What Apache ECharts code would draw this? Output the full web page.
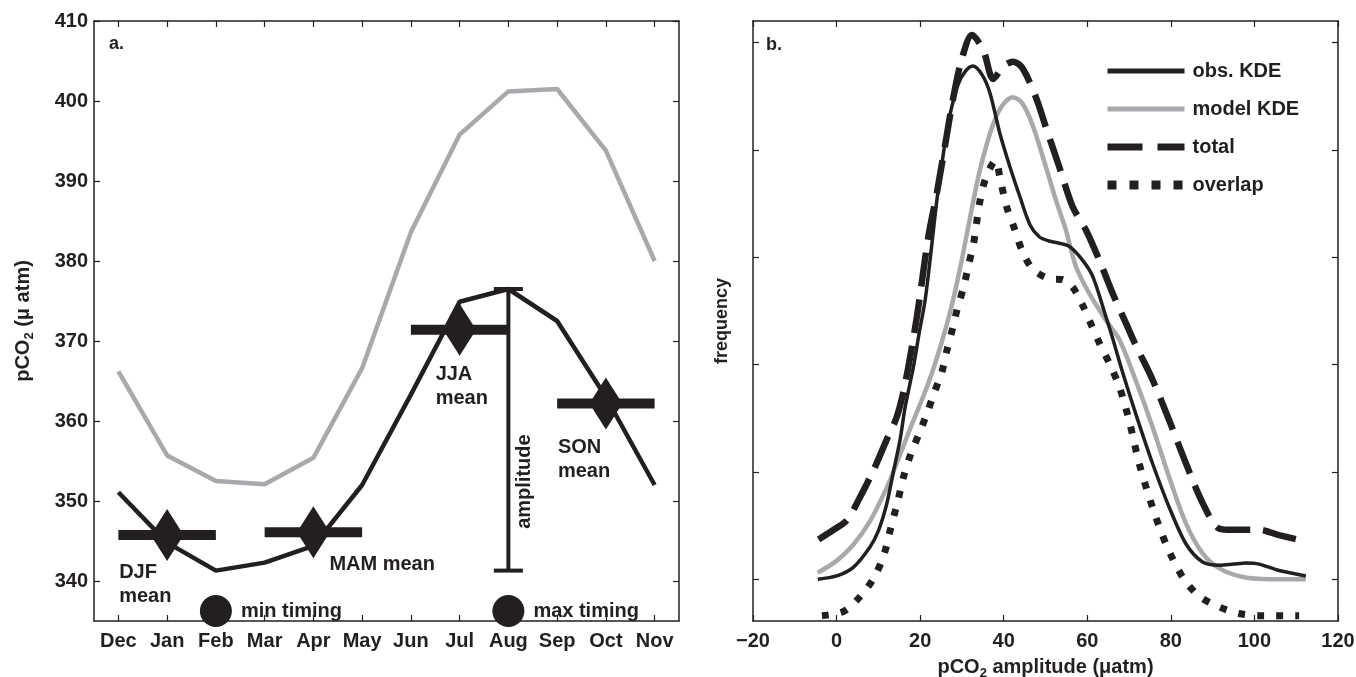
<!DOCTYPE html>
<html>
<head>
<meta charset="utf-8">
<title>pCO2 seasonal cycle and amplitude KDE</title>
<script src="https://cdn.jsdelivr.net/npm/echarts@6/dist/echarts.min.js"></script>
<style>
  html, body { margin: 0; padding: 0; background: #ffffff; }
  #chart { width: 1356px; height: 677px; }
</style>
</head>
<body>
<div id="chart"></div>
<script>
// ---- Panel a: monthly climatology ----
const months = ['Dec', 'Jan', 'Feb', 'Mar', 'Apr', 'May', 'Jun', 'Jul', 'Aug', 'Sep', 'Oct', 'Nov'];
const obsMonthly = [351.1, 344.8, 341.3, 342.3, 344.4, 352.0, 363.3, 374.9, 376.5, 372.5, 363.0, 352.0];
const modelMonthly = [366.2, 355.7, 352.5, 352.1, 355.4, 366.6, 383.6, 395.8, 401.2, 401.5, 393.8, 380.0];
const seasons = ['DJF', 'MAM', 'JJA', 'SON'];
const seasonMonths = [['Dec', 'Jan', 'Feb'], ['Mar', 'Apr', 'May'], ['Jun', 'Jul', 'Aug'], ['Sep', 'Oct', 'Nov']];
const seasonMeans = [345.75, 346.1, 371.4, 362.2];
const amplitudeMonth = 'Aug';
const amplitudeRange = [341.3, 376.5];
const timingMonths = ['Feb', 'Aug'];
const timingNames = ['min timing', 'max timing'];
const timingLevel = 336.25;
const pco2Ticks = [340, 350, 360, 370, 380, 390, 400, 410];

// ---- Panel b: kernel density estimates of amplitude ----
const obsKdeX = [-4.5, 0, 4, 8, 10, 12, 13.6, 15.2, 16.4, 18.4, 19.8, 21.2, 22.6, 24.0, 25.5, 27.0, 29.0, 30.8, 32.6, 34.8, 36.7, 39.1, 41.5, 43.9, 46.3, 48.5, 50.8, 53.3, 55.7, 58.9, 61.3, 64.5, 66.1, 68.5, 71.6, 75.6, 79.6, 83.6, 87.6, 91.6, 95.0, 98.0, 101.1, 105.9, 112.3];
const obsKdeY = [0.00, 0.03, 0.11, 0.30, 0.45, 0.70, 1.00, 1.30, 1.60, 1.98, 2.30, 2.60, 3.05, 3.53, 3.95, 4.30, 4.60, 4.73, 4.78, 4.70, 4.53, 4.15, 3.84, 3.56, 3.30, 3.19, 3.15, 3.13, 3.10, 2.97, 2.82, 2.44, 2.24, 1.92, 1.54, 1.08, 0.67, 0.33, 0.16, 0.13, 0.14, 0.15, 0.14, 0.08, 0.03];
const modelKdeX = [-4.5, 0, 4, 8, 12, 14, 16, 18, 20, 22, 24, 26, 28, 30, 32, 34, 36, 38, 40, 42.2, 44.5, 47.0, 50.1, 52.5, 54.9, 57.3, 60.5, 64.5, 67.7, 71.6, 75.6, 79.6, 83.6, 87.6, 91.6, 97.2, 104.0, 112.3];
const modelKdeY = [0.06, 0.17, 0.32, 0.54, 0.85, 1.04, 1.24, 1.44, 1.63, 1.83, 2.06, 2.32, 2.62, 2.98, 3.38, 3.76, 4.06, 4.29, 4.43, 4.49, 4.43, 4.22, 3.84, 3.53, 3.25, 2.91, 2.66, 2.41, 2.23, 1.85, 1.42, 0.95, 0.52, 0.24, 0.10, 0.02, 0.00, 0.00];
const totalX = [-4.3, -0.7, 2.5, 5.7, 8.9, 12.0, 14.4, 16.4, 19.2, 22.0, 24.0, 26.0, 28.0, 30.0, 32.4, 35.1, 37.5, 40.0, 42.3, 44.5, 47.7, 50.1, 53.3, 56.5, 59.7, 62.9, 66.1, 69.3, 71.6, 75.6, 79.6, 83.6, 87.6, 91.6, 94.8, 101.1, 105.9, 112.3];
const totalY = [0.37, 0.46, 0.55, 0.77, 1.02, 1.30, 1.51, 1.82, 2.44, 3.20, 3.60, 4.05, 4.50, 4.85, 5.07, 4.93, 4.66, 4.78, 4.82, 4.76, 4.49, 4.21, 3.84, 3.47, 3.25, 2.97, 2.66, 2.38, 2.18, 1.86, 1.48, 1.08, 0.71, 0.47, 0.46, 0.46, 0.41, 0.35];
const overlapX = [-3.5, 1.7, 5.7, 8.9, 11.2, 12.8, 14.8, 16.0, 17.8, 19.8, 21.6, 23.4, 25.2, 26.4, 27.8, 28.9, 30.4, 31.6, 32.8, 34.3, 35.8, 38.0, 39.3, 40.7, 42.7, 44.3, 46.9, 50.9, 54.1, 56.5, 58.9, 60.5, 62.9, 65.3, 67.7, 70.0, 72.4, 75.6, 78.8, 82.8, 86.8, 91.6, 96.3, 101.1, 110.7];
const overlapY = [-0.34, -0.30, -0.16, 0.01, 0.21, 0.45, 0.75, 0.95, 1.17, 1.36, 1.54, 1.74, 1.93, 2.13, 2.34, 2.52, 2.72, 2.93, 3.13, 3.52, 3.75, 3.90, 3.70, 3.47, 3.25, 3.07, 2.89, 2.80, 2.79, 2.72, 2.55, 2.41, 2.20, 2.01, 1.79, 1.48, 1.08, 0.67, 0.33, 0.02, -0.16, -0.26, -0.32, -0.34, -0.34];
const ampTicks = [-20, 0, 20, 40, 60, 80, 100, 120];
const freqTicks = [0, 1, 2, 3, 4, 5];

// ---- styling ----
const INK = '#231f20';
const GREY = '#a7a9ac';
const NONE = 'rgba(0,0,0,0)';
const FONT = '"Liberation Sans", Arial, Helvetica, sans-serif';
const txt = { fontFamily: FONT, fontWeight: 'bold', fontSize: 20, color: INK };

const pairs = (xs, ys) => xs.map((x, i) => [x, ys[i]]);

const frameLine = { show: true, onZero: false, lineStyle: { color: INK, width: 1.5 } };
const inTick = { show: true, inside: true, length: 6, lineStyle: { color: INK, width: 1.2 } };
const subStyle = { fontFamily: FONT, fontWeight: 'bold', fontSize: 13, color: INK, padding: [12, 0, 0, 0] };

// fixed plot rectangles; no automatic shrinking to fit labels
const gridA = { left: 94, top: 21, width: 585, height: 600, outerBoundsMode: 'none', containLabel: false };
const gridB = { left: 753, top: 21, width: 585, height: 600, outerBoundsMode: 'none', containLabel: false };

const xAxes = [
  { gridIndex: 0, type: 'category', data: months, position: 'bottom', boundaryGap: true,
    axisLine: frameLine, axisTick: Object.assign({ alignWithLabel: true }, inTick),
    axisLabel: Object.assign({ margin: 10, interval: 0 }, txt), splitLine: { show: false } },
  { gridIndex: 0, type: 'category', data: months, position: 'top', boundaryGap: true,
    axisLine: frameLine, axisTick: Object.assign({ alignWithLabel: true }, inTick),
    axisLabel: { show: false }, splitLine: { show: false } },
  { gridIndex: 1, type: 'value', min: ampTicks[0], max: ampTicks[ampTicks.length - 1], interval: 20, position: 'bottom',
    axisLine: frameLine, axisTick: inTick,
    axisLabel: Object.assign({ margin: 10, formatter: v => String(v).replace('-', '\u2212') }, txt),
    splitLine: { show: false },
    name: 'pCO{sub|2} amplitude (\u03bcatm)', nameLocation: 'middle', nameGap: 34,
    nameTextStyle: Object.assign({ rich: { sub: subStyle } }, txt) },
  { gridIndex: 1, type: 'value', min: ampTicks[0], max: ampTicks[ampTicks.length - 1], interval: 20, position: 'top',
    axisLine: frameLine, axisTick: inTick, axisLabel: { show: false }, splitLine: { show: false } }
];

const yAxes = [
  { gridIndex: 0, type: 'value', min: 335, max: 410, position: 'left',
    axisLine: frameLine, axisTick: Object.assign({ customValues: pco2Ticks }, inTick),
    axisLabel: Object.assign({ margin: 6, customValues: pco2Ticks }, txt), splitLine: { show: false },
    name: 'pCO{sub|2} (\u03bc atm)', nameLocation: 'middle', nameGap: 58, nameRotate: 90,
    nameTextStyle: Object.assign({ rich: { sub: subStyle } }, txt) },
  { gridIndex: 0, type: 'value', min: 335, max: 410, position: 'right',
    axisLine: frameLine, axisTick: Object.assign({ customValues: pco2Ticks }, inTick),
    axisLabel: { show: false }, splitLine: { show: false } },
  { gridIndex: 1, type: 'value', min: -0.39, max: 5.2, position: 'left',
    axisLine: frameLine, axisTick: Object.assign({ customValues: freqTicks }, inTick),
    axisLabel: { show: false }, splitLine: { show: false },
    name: 'frequency', nameLocation: 'middle', nameGap: 22, nameRotate: 90,
    nameTextStyle: Object.assign({}, txt, { fontSize: 18 }) },
  { gridIndex: 1, type: 'value', min: -0.39, max: 5.2, position: 'right',
    axisLine: frameLine, axisTick: Object.assign({ customValues: freqTicks }, inTick),
    axisLabel: { show: false }, splitLine: { show: false } }
];

// label offsets (px from each diamond's centre) for the seasonal captions
const captionOffset = { DJF: [-48, 49], MAM: [16, 32], JJA: [-24, 57], SON: [-48, 56] };
const captionText = { DJF: 'DJF\nmean', MAM: 'MAM mean', JJA: 'JJA\nmean', SON: 'SON\nmean' };

const series = [];

series.push({
  name: 'model monthly', type: 'line', xAxisIndex: 0, yAxisIndex: 0,
  data: modelMonthly, symbol: 'none', lineStyle: { color: GREY, width: 4.5 }, z: 2, silent: true
});
series.push({
  name: 'obs monthly', type: 'line', xAxisIndex: 0, yAxisIndex: 0,
  data: obsMonthly, symbol: 'none', lineStyle: { color: INK, width: 4.5 }, z: 3, silent: true
});

// seasonal mean bars spanning each season's three months
seasons.forEach((s, i) => {
  series.push({
    name: s + ' bar', type: 'line', xAxisIndex: 0, yAxisIndex: 0,
    data: seasonMonths[i].map(m => [m, seasonMeans[i]]),
    symbol: 'none', lineStyle: { color: INK, width: 10, cap: 'butt' }, z: 4, silent: true
  });
});

// seasonal mean diamonds at the central month, with captions
series.push({
  name: 'season means', type: 'scatter', xAxisIndex: 0, yAxisIndex: 0, clip: false,
  symbol: 'diamond', symbolSize: [33, 52], itemStyle: { color: INK, opacity: 1 }, z: 5, silent: true,
  data: seasons.map((s, i) => ({
    value: [seasonMonths[i][1], seasonMeans[i]],
    label: {
      show: true, position: 'inside', align: 'left', verticalAlign: 'middle',
      offset: captionOffset[s], formatter: captionText[s],
      fontFamily: FONT, fontWeight: 'bold', fontSize: 20, lineHeight: 24, color: INK
    }
  }))
});

// amplitude bar (min to max of the observed cycle)
series.push({
  name: 'amplitude', type: 'custom', xAxisIndex: 0, yAxisIndex: 0, z: 6, silent: true,
  data: [[months.indexOf(amplitudeMonth), amplitudeRange[0], amplitudeRange[1]]],
  renderItem: function (params, api) {
    const lo = api.coord([api.value(0), api.value(1)]);
    const hi = api.coord([api.value(0), api.value(2)]);
    const cap = 14.5;
    const st = { stroke: INK, lineWidth: 4 };
    return {
      type: 'group',
      children: [
        { type: 'line', shape: { x1: lo[0], y1: lo[1], x2: hi[0], y2: hi[1] }, style: st },
        { type: 'line', shape: { x1: lo[0] - cap, y1: lo[1], x2: lo[0] + cap, y2: lo[1] }, style: st },
        { type: 'line', shape: { x1: hi[0] - cap, y1: hi[1], x2: hi[0] + cap, y2: hi[1] }, style: st },
        { type: 'text', x: lo[0] + 16.5, y: lo[1] - 89, rotation: Math.PI / 2,
          style: { text: 'amplitude', align: 'center', verticalAlign: 'middle',
                   font: 'bold 20px ' + FONT, fill: INK } }
      ]
    };
  }
});

// timing markers for the months of minimum and maximum
series.push({
  name: 'timing', type: 'scatter', xAxisIndex: 0, yAxisIndex: 0, clip: false,
  symbol: 'circle', symbolSize: 32, itemStyle: { color: INK, opacity: 1 }, z: 7, silent: true,
  data: timingMonths.map((m, i) => ({
    value: [m, timingLevel],
    label: { show: true, position: 'right', distance: 9, formatter: timingNames[i],
             fontFamily: FONT, fontWeight: 'bold', fontSize: 20, color: INK }
  }))
});

// ---- Panel b curves ----
series.push({
  name: 'obs. KDE', type: 'line', xAxisIndex: 2, yAxisIndex: 2, data: pairs(obsKdeX, obsKdeY),
  symbol: 'none', smooth: 0.3, lineStyle: { color: INK, width: 3.5 }, itemStyle: { color: NONE }, z: 3
});
series.push({
  name: 'model KDE', type: 'line', xAxisIndex: 2, yAxisIndex: 2, data: pairs(modelKdeX, modelKdeY),
  symbol: 'none', smooth: 0.3, lineStyle: { color: GREY, width: 4.5 }, itemStyle: { color: NONE }, z: 2
});
series.push({
  name: 'total', type: 'line', xAxisIndex: 2, yAxisIndex: 2, data: pairs(totalX, totalY),
  symbol: 'none', smooth: 0.3, itemStyle: { color: NONE },
  lineStyle: { color: INK, width: 6.5, type: [34, 13], cap: 'butt' }, z: 4
});
series.push({
  name: 'overlap', type: 'line', xAxisIndex: 2, yAxisIndex: 2, data: pairs(overlapX, overlapY),
  symbol: 'none', smooth: 0.3, itemStyle: { color: NONE },
  lineStyle: { color: INK, width: 7, type: [7, 12], cap: 'butt' }, z: 4
});

const chart = echarts.init(document.getElementById('chart'), null, { renderer: 'canvas' });
chart.setOption({
  animation: false,
  backgroundColor: '#ffffff',
  textStyle: { fontFamily: FONT },
  title: [
    { text: 'a.', left: 104, top: 30, textStyle: { fontFamily: FONT, fontWeight: 'bold', fontSize: 18, color: INK } },
    { text: 'b.', left: 761, top: 31, textStyle: { fontFamily: FONT, fontWeight: 'bold', fontSize: 18, color: INK } }
  ],
  legend: {
    data: [
      { name: 'obs. KDE', itemStyle: { color: NONE, opacity: 0 }, lineStyle: { color: INK, width: 5, type: 'solid' } },
      { name: 'model KDE', itemStyle: { color: NONE, opacity: 0 }, lineStyle: { color: GREY, width: 5, type: 'solid' } },
      { name: 'total', itemStyle: { color: NONE, opacity: 0 }, lineStyle: { color: INK, width: 7, type: [35, 15], cap: 'butt' } },
      { name: 'overlap', itemStyle: { color: NONE, opacity: 0 }, lineStyle: { color: INK, width: 9, type: [9, 13], cap: 'butt' } }
    ],
    orient: 'vertical', left: 1098, top: 56,
    itemWidth: 77, itemHeight: 20, itemGap: 18,
    textStyle: { fontFamily: FONT, fontWeight: 'bold', fontSize: 20, color: INK, padding: [0, 0, 0, 3] },
    selectedMode: false
  },
  grid: [gridA, gridB],
  xAxis: xAxes,
  yAxis: yAxes,
  series: series
});
</script>
</body>
</html>
